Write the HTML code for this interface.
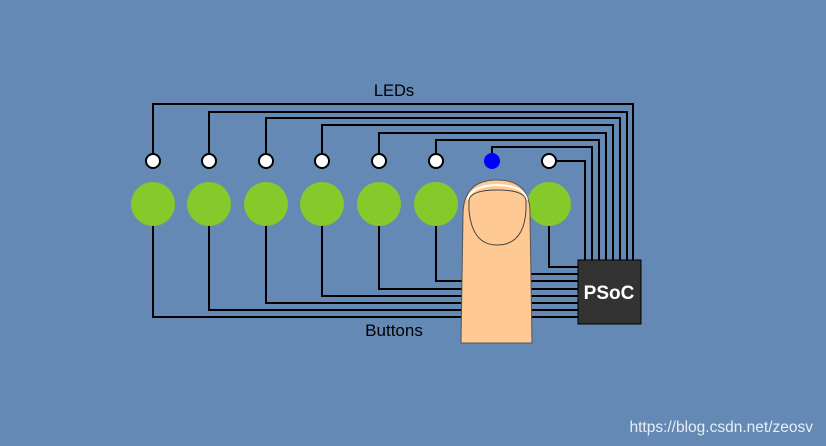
<!DOCTYPE html>
<html><head><style>body{margin:0;background:#6389b4;}svg{display:block}</style></head><body>
<svg width="826" height="446" viewBox="0 0 826 446" xmlns="http://www.w3.org/2000/svg">
<rect width="826" height="446" fill="#6389b4"/>
<g fill="none" stroke="#000" stroke-width="2">
<path d="M153 161V104H633V260"/>
<path d="M209 161V112H627V260"/>
<path d="M266 161V118H620V260"/>
<path d="M322 161V125H613V260"/>
<path d="M379 161V133H606V260"/>
<path d="M436 161V140H599V260"/>
<path d="M492 161V147H592V260"/>
<path d="M549 161H585V260"/>
<path d="M153 204V317H578"/>
<path d="M209 204V310H578"/>
<path d="M266 204V303H578"/>
<path d="M322 204V296H578"/>
<path d="M379 204V289H578"/>
<path d="M436 204V281H578"/>
<path d="M492 204V274H578"/>
<path d="M549 204V267H578"/>
</g>
<g fill="#fff" stroke="#000" stroke-width="2">
<circle cx="153" cy="161" r="7"/><circle cx="209" cy="161" r="7"/><circle cx="266" cy="161" r="7"/><circle cx="322" cy="161" r="7"/><circle cx="379" cy="161" r="7"/><circle cx="436" cy="161" r="7"/><circle cx="549" cy="161" r="7"/>
</g>
<circle cx="492" cy="161" r="8" fill="#0000ff"/>
<g fill="#86c92a">
<circle cx="153" cy="204" r="22"/><circle cx="209" cy="204" r="22"/><circle cx="266" cy="204" r="22"/><circle cx="322" cy="204" r="22"/><circle cx="379" cy="204" r="22"/><circle cx="436" cy="204" r="22"/><circle cx="492" cy="204" r="22"/><circle cx="549" cy="204" r="22"/>
</g>
<rect x="578" y="260" width="63" height="64" fill="#333" stroke="#000" stroke-width="1"/>
<text x="609" y="299" font-family="Liberation Sans, sans-serif" font-weight="bold" font-size="19" fill="#fff" text-anchor="middle">PSoC</text>
<path d="M461 343 L463 215 Q463 180 497 180 Q531 180 530 215 L532 343 Z" fill="#ffc993" stroke="#555" stroke-width="1"/>
<path d="M468 200 Q470 186 497 185 Q525 186 527 200" fill="none" stroke="#fff" stroke-width="2"/>
<path d="M469 200 Q471 190 497 190 Q524 190 526 200 L526 210 Q524 245 497 245 Q472 245 469 210 Z" fill="#ffc993" stroke="#444" stroke-width="1"/>
<text x="394" y="96" font-family="Liberation Sans, sans-serif" font-size="16.5" text-anchor="middle">LEDs</text>
<text x="394" y="336" font-family="Liberation Sans, sans-serif" font-size="17" text-anchor="middle">Buttons</text>
<text x="813" y="432" font-family="Liberation Sans, sans-serif" font-size="15.5" fill="#e8eef5" text-anchor="end">https://blog.csdn.net/zeosv</text>
</svg>
</body></html>
